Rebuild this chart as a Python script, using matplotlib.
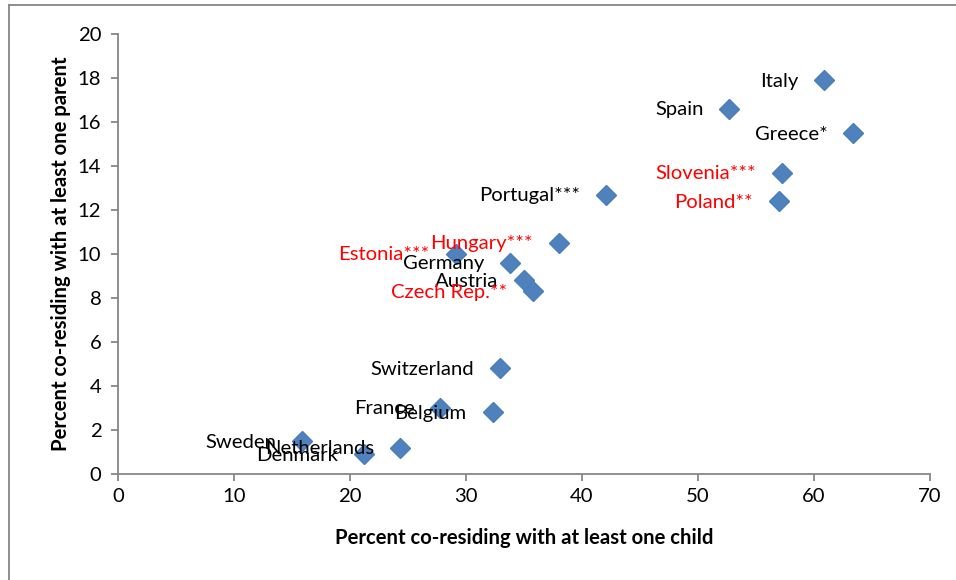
import matplotlib
matplotlib.use("Agg")
import matplotlib.pyplot as plt
from matplotlib.lines import Line2D

plt.rcParams['font.family'] = ['Lato', 'DejaVu Sans']

# データ
countries = ["Italy", "Spain", "Greece*", "Slovenia***", "Poland**", "Portugal***",
             "Hungary***", "Estonia***", "Germany", "Austria", "Czech Rep.**",
             "Switzerland", "France", "Belgium", "Sweden", "Netherlands", "Denmark"]
with_child = [60.9, 52.7, 63.4, 57.2, 57.0, 42.1,
              38.0, 29.1, 33.8, 35.0, 35.8,
              32.9, 27.8, 32.3, 15.9, 24.3, 21.2]
with_parent = [17.9, 16.6, 15.5, 13.7, 12.4, 12.7,
               10.5, 10.0, 9.6, 8.8, 8.3,
               4.8, 3.0, 2.8, 1.5, 1.2, 0.9]
highlight = ["Slovenia***", "Poland**", "Hungary***", "Estonia***", "Czech Rep.**"]

FS = 14.6
W, H = 956, 580
fig = plt.figure(figsize=(W / 100, H / 100), dpi=100)
ax = fig.add_axes([118 / W, (H - 474) / H, (930 - 118) / W, (474 - 34) / H])

ax.plot(with_child, with_parent, linestyle='none', marker='D', markersize=10.5,
        color='#4F81BD', markeredgecolor='#4A7EBB', zorder=3)

for name, x, y in zip(countries, with_child, with_parent):
    col = 'red' if name in highlight else 'black'
    ax.annotate(name, (x, y), xytext=(-26, -1), textcoords='offset pixels',
                ha='right', va='center', fontsize=FS, color=col, zorder=4)

ax.set_xlim(0, 70)
ax.set_ylim(0, 20)
ax.set_xticks(range(0, 71, 10))
ax.set_yticks(range(0, 21, 2))
ax.tick_params(labelsize=FS, color='#868686', length=5, width=1.3, direction='out')
ax.tick_params(axis='y', pad=7)
ax.tick_params(axis='x', pad=5)
for s in ['top', 'right']:
    ax.spines[s].set_visible(False)
for s in ['left', 'bottom']:
    ax.spines[s].set_color('#868686')
    ax.spines[s].set_linewidth(1.3)

ax.set_xlabel("Percent co-residing with at least one child", fontsize=FS,
              fontweight='bold', labelpad=17)
ax.set_ylabel("Percent co-residing with at least one parent", fontsize=FS,
              fontweight='bold', labelpad=5)

# 外枠
fig.add_artist(Line2D([9 / W, 9 / W], [0, 1 - 5 / H], transform=fig.transFigure,
                      color='#868686', lw=1.3))
fig.add_artist(Line2D([9 / W, 1], [1 - 5 / H, 1 - 5 / H], transform=fig.transFigure,
                      color='#868686', lw=1.3))

fig.savefig("out.png", dpi=100)
